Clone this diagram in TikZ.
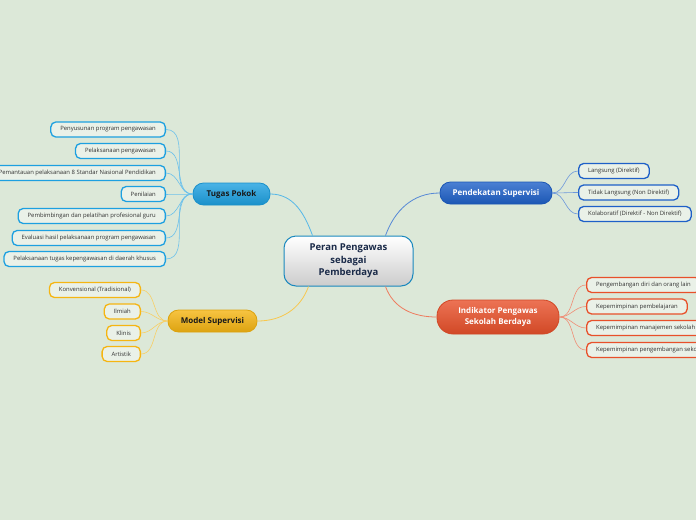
\documentclass[tikz,border=0pt]{standalone}
\usepackage{fontspec}
\setmainfont{Open Sans}
\usetikzlibrary{calc}
\definecolor{bg}{HTML}{DCE8D8}
\definecolor{tpc}{HTML}{1DA0E0}
\definecolor{psc}{HTML}{1E60C8}
\definecolor{inc}{HTML}{E8502A}
\definecolor{msc}{HTML}{F5B512}
\definecolor{navy}{HTML}{1A2A48}
\tikzset{
  leaf/.style={draw=#1, line width=1.3pt, fill=bg!60!white, rounded corners=5pt,
    minimum height=15pt, inner xsep=9.5pt, inner ysep=0pt, font=\fontsize{5.9}{6}\selectfont, text=black!80},
  branch/.style={draw=#1!90!black, line width=0.8pt, top color=#1!80!white, bottom color=#1!90!black,
    rounded corners=10.5pt, minimum height=22pt, inner xsep=10pt, inner ysep=2pt,
    font=\fontsize{8}{10.5}\selectfont\bfseries, align=center},
  conn/.style={draw=#1, line width=0.8pt},
  twig/.style={draw=#1, line width=0.6pt},
}
\begin{document}
\begin{tikzpicture}[x=1pt,y=1pt]
\fill[bg] (0,0) rectangle (696,-520);
\useasboundingbox (0,0) rectangle (696,-520);

% central
\node[draw=tpc!85!black, line width=1pt, rounded corners=12pt, top color=white, bottom color=black!20,
  minimum width=129pt, minimum height=50pt, align=center, text=navy,
  font=\fontsize{9.5}{12.5}\selectfont\bfseries] (c) at (348.5,-261) {Peran Pengawas\\sebagai\\Pemberdaya};

% branches
\node[branch=tpc, text=black!90, minimum width=77pt] (tp) at (231.5,-194) {Tugas Pokok};
\node[branch=psc, text=white, minimum width=112pt] (ps) at (496,-193) {Pendekatan Supervisi};
\node[branch=inc, text=white, minimum width=122pt, minimum height=34pt, rounded corners=16pt] (ind) at (498,-317) {Indikator Pengawas\\Sekolah Berdaya};
\node[branch=msc, text=black!90, minimum width=89pt] (ms) at (212.5,-321) {Model Supervisi};

% central connectors
\draw[conn=tpc!75!white] ($(c.north)+(-36,0)$) to[out=110,in=0] (tp.east);
\draw[conn=psc!75!white] ($(c.north)+(37,0)$) to[out=70,in=180] (ps.west);
\draw[conn=inc!75!white] ($(c.south)+(37,0)$) to[out=-70,in=180] (ind.west);
\draw[conn=msc!75!white] ($(c.south)+(-40,0)$) to[out=-110,in=0] (ms.east);

% Tugas Pokok leaves
\foreach \n/\y/\t in {t1/129.5/Penyusunan program pengawasan,
  t2/151/Pelaksanaan pengawasan,
  t3/173/Pemantauan pelaksanaan 8 Standar Nasional Pendidikan,
  t4/194/Penilaian,
  t5/216/Pembimbingan dan pelatihan profesional guru,
  t6/238/Evaluasi hasil pelaksanaan program pengawasan,
  t7/259/Pelaksanaan tugas kepengawasan di daerah khusus}{
  \node[leaf=tpc, anchor=east] (\n) at (166,-\y) {\t};
  \draw[twig=tpc!65!white] (tp.west) to[out=180,in=0] (\n.east);
}

% Pendekatan leaves
\foreach \n/\y/\t in {p1/171/Langsung (Direktif),
  p2/192.5/Tidak Langsung (Non Direktif),
  p3/214/Kolaboratif (Direktif - Non Direktif)}{
  \node[leaf=psc, anchor=west] (\n) at (578,-\y) {\t};
  \draw[twig=psc!65!white] (ps.east) to[out=0,in=180] (\n.west);
}

% Indikator leaves
\foreach \n/\y/\t in {i1/285/Pengembangan diri dan orang lain,
  i2/306.5/Kepemimpinan pembelajaran,
  i3/328/Kepemimpinan manajemen sekolah,
  i4/350/Kepemimpinan pengembangan sekolah}{
  \node[leaf=inc, anchor=west] (\n) at (586,-\y) {\t};
  \draw[twig=inc!65!white] (ind.east) to[out=0,in=180] (\n.west);
}

% Model leaves
\foreach \n/\y/\t in {m1/290/Konvensional (Tradisional),
  m2/311.5/Ilmiah,
  m3/333/Klinis,
  m4/354/Artistik}{
  \node[leaf=msc, anchor=east] (\n) at (141,-\y) {\t};
  \draw[twig=msc!65!white] (ms.west) to[out=180,in=0] (\n.east);
}
\end{tikzpicture}
\end{document}
